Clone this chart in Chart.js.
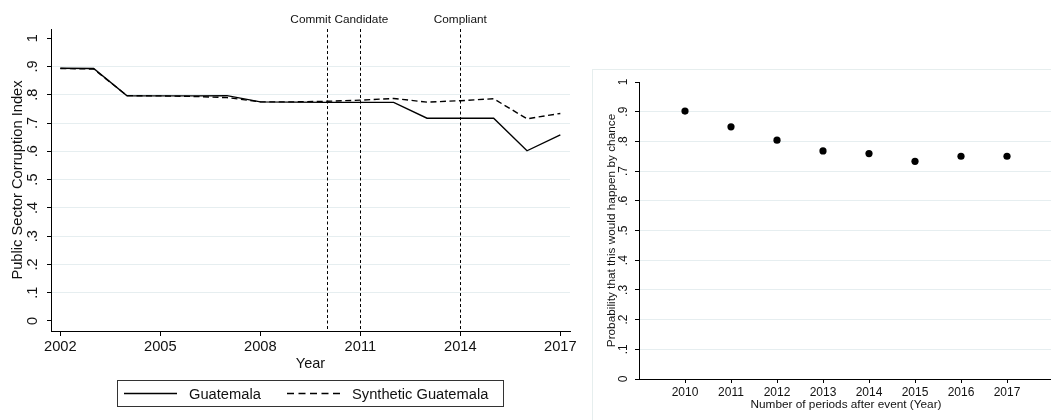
<!DOCTYPE html>
<html>
<head>
<meta charset="utf-8">
<script src="https://cdn.jsdelivr.net/npm/chart.js@4.4.1/dist/chart.umd.min.js"></script>
<style>
  html, body { margin: 0; padding: 0; background: #fff; overflow: hidden; width: 1051px; height: 420px; }
  #left { position: absolute; left: 0; top: 0; }
  #rightFrame { position: absolute; left: 592px; top: 69px; width: 470px; height: 360px;
                border-left: 1px solid #e6eeee; border-top: 1px solid #e6eeee; }
  #right { position: absolute; left: 593px; top: 70px; }
</style>
</head>
<body>
<canvas id="left" width="590" height="420"></canvas>
<div id="rightFrame"></div>
<canvas id="right" width="464" height="350"></canvas>
<script>
// ---- Data: corruption index, Guatemala vs. synthetic control ----
const years = [2002, 2003, 2004, 2005, 2006, 2007, 2008, 2009, 2010, 2011, 2012, 2013, 2014, 2015, 2016, 2017];
const guatemala = [0.894, 0.893, 0.796, 0.796, 0.796, 0.797, 0.775, 0.774, 0.773, 0.773, 0.773, 0.717, 0.717, 0.717, 0.602, 0.658];
const syntheticGuatemala = [0.893, 0.891, 0.797, 0.796, 0.794, 0.790, 0.775, 0.775, 0.777, 0.781, 0.787, 0.774, 0.779, 0.786, 0.715, 0.734];

// Events marked with vertical reference lines
const eventYears = [2010, 2011, 2014];
const eventLabels = ['Commit', 'Candidate', 'Compliant'];

// Axis ticks
const indexTickValues = [0, 0.1, 0.2, 0.3, 0.4, 0.5, 0.6, 0.7, 0.8, 0.9, 1];
const indexTickLabels = ['0', '.1', '.2', '.3', '.4', '.5', '.6', '.7', '.8', '.9', '1'];
const yearTicks = [2002, 2005, 2008, 2011, 2014, 2017];

// ---- Data: placebo probabilities by period after event ----
const periods = [2010, 2011, 2012, 2013, 2014, 2015, 2016, 2017];
const probabilities = [0.902, 0.849, 0.804, 0.768, 0.759, 0.733, 0.750, 0.750];

const FONT = "'Liberation Sans', Arial, Helvetica, sans-serif";
const GRID = '#e6eef0';
const INK = '#111';

const gridColor = (ctx) => (ctx.tick && ctx.tick.value > 0.001 && ctx.tick.value < 0.999) ? GRID : 'rgba(0,0,0,0)';

// Draws y tick labels rotated to read bottom-to-top
const rotatedYTicks = {
  id: 'rotatedYTicks',
  afterDraw(chart, args, opts) {
    const scale = chart.scales.y;
    const ctx = chart.ctx;
    ctx.save();
    ctx.fillStyle = INK;
    ctx.font = opts.size + 'px ' + FONT;
    ctx.textAlign = 'center';
    ctx.textBaseline = 'middle';
    opts.values.forEach((v, i) => {
      const y = scale.getPixelForValue(v);
      ctx.save();
      ctx.translate(opts.x, y);
      ctx.rotate(-Math.PI / 2);
      ctx.fillText(opts.labels[i], 0, 0);
      ctx.restore();
    });
    ctx.restore();
  }
};

// Vertical dashed event lines with labels above the plot
const eventLines = {
  id: 'eventLines',
  afterDatasetsDraw(chart, args, opts) {
    const {ctx, chartArea, scales} = chart;
    ctx.save();
    ctx.strokeStyle = '#000';
    ctx.lineWidth = 1;
    ctx.setLineDash([3, 2.5]);
    eventYears.forEach((yr) => {
      const x = Math.round(scales.x.getPixelForValue(yr)) + 0.5;
      ctx.beginPath();
      ctx.moveTo(x, chartArea.top);
      ctx.lineTo(x, chartArea.bottom);
      ctx.stroke();
    });
    ctx.setLineDash([]);
    ctx.fillStyle = INK;
    ctx.font = opts.size + 'px ' + FONT;
    ctx.textBaseline = 'middle';
    eventYears.forEach((yr, i) => {
      const x = scales.x.getPixelForValue(yr);
      ctx.textAlign = opts.align[i];
      ctx.fillText(eventLabels[i], x + opts.dx[i], opts.y);
    });
    ctx.restore();
  }
};

// Boxed legend below the axis
const boxedLegend = {
  id: 'boxedLegend',
  afterDraw(chart, args, opts) {
    const ctx = chart.ctx;
    const b = opts.box;
    ctx.save();
    ctx.strokeStyle = '#333';
    ctx.lineWidth = 1;
    ctx.strokeRect(b.x + 0.5, b.y + 0.5, b.w, b.h);
    const cy = b.y + b.h / 2 + 0.5;
    ctx.font = opts.size + 'px ' + FONT;
    ctx.fillStyle = INK;
    ctx.textAlign = 'left';
    ctx.textBaseline = 'middle';
    chart.data.datasets.forEach((ds, i) => {
      const it = opts.items[i];
      ctx.strokeStyle = ds.borderColor;
      ctx.lineWidth = ds.borderWidth;
      ctx.setLineDash(it.dash);
      ctx.beginPath();
      ctx.moveTo(it.x0, cy);
      ctx.lineTo(it.x1, cy);
      ctx.stroke();
      ctx.setLineDash([]);
      ctx.fillText(ds.label, it.tx, cy + 1);
    });
    ctx.restore();
  }
};

const toPoints = (xs, ys) => xs.map((x, i) => ({x: x, y: ys[i]}));

new Chart(document.getElementById('left'), {
  type: 'line',
  data: {
    datasets: [
      { label: 'Guatemala', data: toPoints(years, guatemala),
        borderColor: '#000', borderWidth: 1.4, pointRadius: 0, tension: 0, fill: false },
      { label: 'Synthetic Guatemala', data: toPoints(years, syntheticGuatemala),
        borderColor: '#000', borderWidth: 1.4, borderDash: [6, 3.5], pointRadius: 0, tension: 0, fill: false }
    ]
  },
  options: {
    responsive: false,
    animation: false,
    events: [],
    layout: { padding: { left: 0, top: 29, right: 20, bottom: 0 } },
    plugins: {
      legend: { display: false },
      tooltip: { enabled: false },
      rotatedYTicks: { x: 33, size: 14.5, values: indexTickValues, labels: indexTickLabels },
      eventLines: { y: 20, size: 11.8, align: ['right', 'center', 'center'], dx: [4, 1, 0] },
      boxedLegend: {
        size: 14.7,
        box: { x: 117, y: 380, w: 386, h: 26 },
        items: [
          { x0: 124, x1: 177, tx: 189, dash: [] },
          { x0: 287, x1: 343, tx: 352, dash: [7, 4.5] }
        ]
      }
    },
    scales: {
      x: {
        type: 'linear',
        min: 2001.72,
        max: 2017.29,
        afterBuildTicks: (s) => { s.ticks = yearTicks.map(v => ({value: v})); },
        afterFit: (s) => { s.height = 89; },
        ticks: { color: INK, font: { family: FONT, size: 14.7 }, padding: 2, maxRotation: 0,
                 callback: (v) => String(v) },
        grid: { drawOnChartArea: false, drawTicks: true, tickLength: 5, tickColor: '#000' },
        border: { display: true, color: '#000', width: 1 },
        title: { display: true, text: 'Year', color: INK, font: { family: FONT, size: 14.5 },
                 padding: { top: 0, bottom: 47 } }
      },
      y: {
        min: -0.0354,
        max: 1.0326,
        afterBuildTicks: (s) => { s.ticks = indexTickValues.map(v => ({value: v})); },
        afterFit: (s) => { s.width = 51; },
        ticks: { display: false },
        grid: { color: gridColor, lineWidth: 1, drawTicks: true, tickLength: 4, tickColor: '#000' },
        border: { display: true, color: '#000', width: 1 },
        title: { display: true, text: 'Public Sector Corruption Index', color: INK,
                 font: { family: FONT, size: 14.7 }, padding: { top: 9, bottom: 0 } }
      }
    }
  },
  plugins: [rotatedYTicks, eventLines, boxedLegend]
});

new Chart(document.getElementById('right'), {
  type: 'scatter',
  data: {
    datasets: [
      { label: 'Probability', data: toPoints(periods, probabilities),
        backgroundColor: '#000', borderColor: '#000', borderWidth: 0, pointRadius: 3.6 }
    ]
  },
  options: {
    responsive: false,
    animation: false,
    events: [],
    layout: { padding: { left: 0, top: 12, right: 0, bottom: 0 } },
    plugins: {
      legend: { display: false },
      tooltip: { enabled: false },
      rotatedYTicks: { x: 31, size: 12, values: indexTickValues, labels: indexTickLabels }
    },
    scales: {
      x: {
        type: 'linear',
        min: 2009,
        max: 2018,
        afterBuildTicks: (s) => { s.ticks = periods.map(v => ({value: v})); },
        afterFit: (s) => { s.height = 41; },
        ticks: { color: INK, font: { family: FONT, size: 12 }, padding: 2, maxRotation: 0,
                 callback: (v) => String(v) },
        grid: { drawOnChartArea: false, drawTicks: true, tickLength: 4, tickColor: '#000' },
        border: { display: true, color: '#000', width: 1 },
        title: { display: true, text: 'Number of periods after event (Year)', color: INK,
                 font: { family: FONT, size: 11.8 }, padding: { top: 0, bottom: 8 } }
      },
      y: {
        min: 0,
        max: 1,
        afterBuildTicks: (s) => { s.ticks = indexTickValues.map(v => ({value: v})); },
        afterFit: (s) => { s.width = 46; },
        ticks: { display: false },
        grid: { color: gridColor, lineWidth: 1, drawTicks: true, tickLength: 4, tickColor: '#000' },
        border: { display: true, color: '#000', width: 1 },
        title: { display: true, text: 'Probability that this would happen by chance', color: INK,
                 font: { family: FONT, size: 11.8 }, padding: { top: 12, bottom: 0 } }
      }
    }
  },
  plugins: [rotatedYTicks]
});
</script>
</body>
</html>
